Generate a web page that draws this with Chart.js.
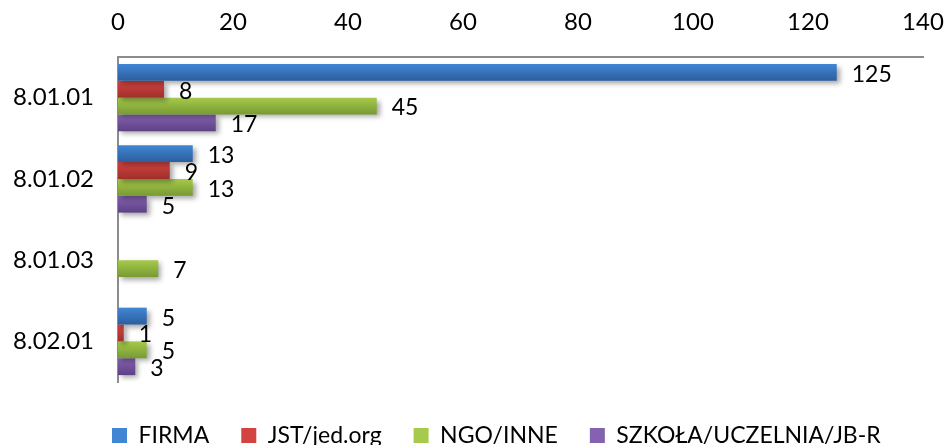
<!DOCTYPE html>
<html>
<head>
<meta charset="utf-8">
<script src="https://cdn.jsdelivr.net/npm/chart.js@4.4.1/dist/chart.umd.min.js"></script>
<style>
  html, body { margin: 0; padding: 0; background: #fff; }
  #wrap { width: 944px; height: 445px; }
</style>
</head>
<body>
<div id="wrap"><canvas id="chartCanvas"></canvas></div>
<script>
const categories = ['8.01.01', '8.01.02', '8.01.03', '8.02.01'];
const firma = [125, 13, null, 5];
const jst = [8, 9, null, 1];
const ngo = [45, 13, 7, 5];
const szkola = [17, 5, null, 3];
const xTicks = [0, 20, 40, 60, 80, 100, 120, 140];

const fontName = 'Lato, "Open Sans", sans-serif';
const legendPad = 32;
// top / bottom colour of each bar gradient
const shades = [
  ['#4286d3', '#2c5e9f'],
  ['#d3433f', '#a02f2c'],
  ['#a6ca4b', '#789a33'],
  ['#8562b1', '#5d4184'],
];

// gives each bar a vertical gradient, like the old office charts
const gradientBars = {
  id: 'gradientBars',
  beforeDatasetDraw(chart, args) {
    const c = chart.ctx;
    const s = shades[args.index];
    args.meta.data.forEach(el => {
      const half = el.height / 2;
      const g = c.createLinearGradient(0, el.y - half, 0, el.y + half);
      g.addColorStop(0, s[0]);
      g.addColorStop(1, s[1]);
      el.options = Object.assign({}, el.options, {backgroundColor: g});
    });
  }
};

const barShadow = {
  id: 'barShadow',
  beforeDatasetsDraw(chart) {
    const c = chart.ctx;
    c.save();
    c.shadowColor = 'rgba(0,0,0,0.35)';
    c.shadowBlur = 5;
    c.shadowOffsetX = 3;
    c.shadowOffsetY = 3;
  },
  afterDatasetsDraw(chart) {
    chart.ctx.restore();
  }
};

const valueLabels = {
  id: 'valueLabels',
  afterDatasetsDraw(chart) {
    const c = chart.ctx;
    c.save();
    c.font = '23px ' + fontName;
    c.fillStyle = '#000';
    c.textAlign = 'left';
    c.textBaseline = 'middle';
    chart.data.datasets.forEach((ds, d) => {
      chart.getDatasetMeta(d).data.forEach((el, i) => {
        const v = ds.data[i];
        if (v === null) return;
        c.fillText(String(v), el.x + 15, el.y + 2);
      });
    });
    c.restore();
  }
};

// move the legend row: a bit lower and starting under the first bars
const legendShift = {
  id: 'legendShift',
  afterLayout(chart) {
    const lg = chart.legend;
    const w = lg.right - lg.left;
    lg.top += 10;
    lg.bottom += 10;
    lg.left = 112 - legendPad;
    lg.right = lg.left + w;
  }
};

function makeSet(label, data, i) {
  return {
    label: label,
    data: data,
    backgroundColor: shades[i][0],
    borderWidth: 0,
    categoryPercentage: 0.83,
    barPercentage: 1,
  };
}

const ctx = document.getElementById('chartCanvas').getContext('2d');
new Chart(ctx, {
  type: 'bar',
  data: {
    labels: categories,
    datasets: [
      makeSet('FIRMA', firma, 0),
      makeSet('JST/jed.org', jst, 1),
      makeSet('NGO/INNE', ngo, 2),
      makeSet('SZKOŁA/UCZELNIA/JB-R', szkola, 3),
    ],
  },
  options: {
    indexAxis: 'y',
    responsive: true,
    maintainAspectRatio: false,
    animation: false,
    layout: { padding: 0 },
    scales: {
      x: {
        position: 'top',
        min: 0,
        max: 140,
        afterBuildTicks: scale => { scale.ticks = xTicks.map(v => ({value: v})); },
        afterFit: scale => {
          scale.height = 57;
          scale.paddingRight = 21;
        },
        grid: { display: false },
        border: { display: true, color: '#8c8c8c', width: 2 },
        ticks: { color: '#000', padding: 12, font: { family: fontName, size: 24 } },
      },
      y: {
        afterFit: scale => { scale.width = 118; },
        grid: { display: false },
        border: { display: true, color: '#8c8c8c', width: 2 },
        ticks: { color: '#000', padding: 16, font: { family: fontName, size: 24 } },
      },
    },
    plugins: {
      legend: {
        position: 'bottom',
        align: 'start',
        maxHeight: 63,
        labels: {
          color: '#000',
          boxWidth: 15,
          boxHeight: 15,
          padding: legendPad,
          font: { family: fontName, size: 23 },
        },
      },
      tooltip: { enabled: false },
    },
  },
  plugins: [gradientBars, barShadow, valueLabels, legendShift],
});
</script>
</body>
</html>
